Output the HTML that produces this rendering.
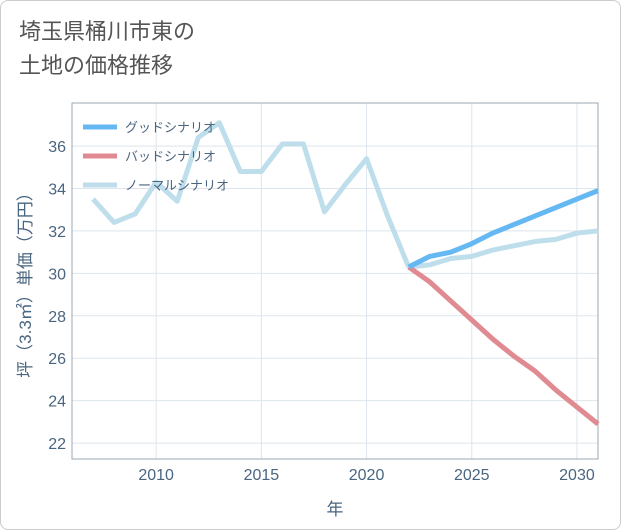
<!DOCTYPE html>
<html><head><meta charset="utf-8"><style>
body{margin:0;background:#fff;font-family:"Liberation Sans","Noto Sans CJK JP",sans-serif;}
#wrap{position:relative;width:619px;height:528px;border:1px solid #ccc;border-radius:8px;overflow:hidden;}
#title{position:absolute;left:18px;top:14px;font-size:22px;line-height:34px;color:#555;}
</style></head><body>
<div id="wrap">
<div id="title">埼玉県桶川市東の<br>土地の価格推移</div>
<svg id="chart" width="621" height="530" style="position:absolute;left:0;top:0"></svg>
</div>
<script>
const years=[2007,2008,2009,2010,2011,2012,2013,2014,2015,2016,2017,2018,2019,2020,2021,2022];
const history=[33.5,32.4,32.8,34.3,33.4,36.4,37.1,34.8,34.8,36.1,36.1,32.9,34.2,35.4,32.7,30.3];
const futureYears=[2022,2023,2024,2025,2026,2027,2028,2029,2030,2031];
const good=[30.3,30.8,31.0,31.4,31.9,32.3,32.7,33.1,33.5,33.9];
const bad=[30.3,29.6,28.7,27.8,26.9,26.1,25.4,24.5,23.7,22.9];
const normal=[30.3,30.4,30.7,30.8,31.1,31.3,31.5,31.6,31.9,32.0];
const xTicks=[2010,2015,2020,2025,2030];
const yTicks=[22,24,26,28,30,32,34,36];
const L=71,R=597,T=102,B=458,x0=2006,x1=2031,y0=21.25,y1=38.03;
const X=v=>L+(v-x0)/(x1-x0)*(R-L), Y=v=>B-(v-y0)/(y1-y0)*(B-T);
const svg=document.getElementById('chart'),NS='http://www.w3.org/2000/svg';
function mk(t,a,p){const e=document.createElementNS(NS,t);for(const k in a)e.setAttribute(k,a[k]);(p||svg).appendChild(e);return e;}
const grid=mk('g',{});
xTicks.forEach(v=>{mk('line',{x1:X(v),x2:X(v),y1:T,y2:B,stroke:'#dde5ec'},grid);
 const t=mk('text',{x:X(v),y:B+21,'text-anchor':'middle','font-size':16,fill:'#4a6580'});t.textContent=v;
 });
yTicks.forEach(v=>{mk('line',{x1:L,x2:R,y1:Y(v),y2:Y(v),stroke:'#dde5ec'},grid);
 const t=mk('text',{x:L-6,y:Y(v)+6,'text-anchor':'end','font-size':16,fill:'#4a6580'});t.textContent=v;
 });
const frame=mk('rect',{x:L,y:T,width:R-L,height:B-T,fill:'none',stroke:'#9aa8b5'});

function line(xs,ys,c,n){const p=mk('polyline',{points:xs.map((x,i)=>X(x)+','+Y(ys[i])).join(' '),fill:'none',stroke:c,'stroke-width':5,'stroke-linejoin':'round'});
 }
line(years,history,'#bfdeec','history-line');
line(futureYears,normal,'#bfdeec','normal-scenario-line');
line(futureYears,bad,'#e08a92','bad-scenario-line');
line(futureYears,good,'#66b8f3','good-scenario-line');
const lg=mk('g',{});
[['グッドシナリオ','#66b8f3'],['バッドシナリオ','#e08a92'],['ノーマルシナリオ','#bfdeec']].forEach((d,i)=>{
 const y=126+i*29;mk('line',{x1:82,x2:116,y1:y,y2:y,stroke:d[1],'stroke-width':5},lg);
 const t=mk('text',{x:124,y:y+5,'font-size':13,fill:'#4a6580'},lg);t.textContent=d[0];
 });
const xt=mk('text',{x:(L+R)/2,y:514,'text-anchor':'middle','font-size':17,fill:'#4a6580'});xt.textContent='年';

const yt=mk('text',{x:0,y:0,'text-anchor':'middle','font-size':17,fill:'#4a6580',transform:`translate(30,${(T+B)/2}) rotate(-90)`});yt.textContent='坪（3.3㎡）単価（万円）';

</script>
</body></html>
